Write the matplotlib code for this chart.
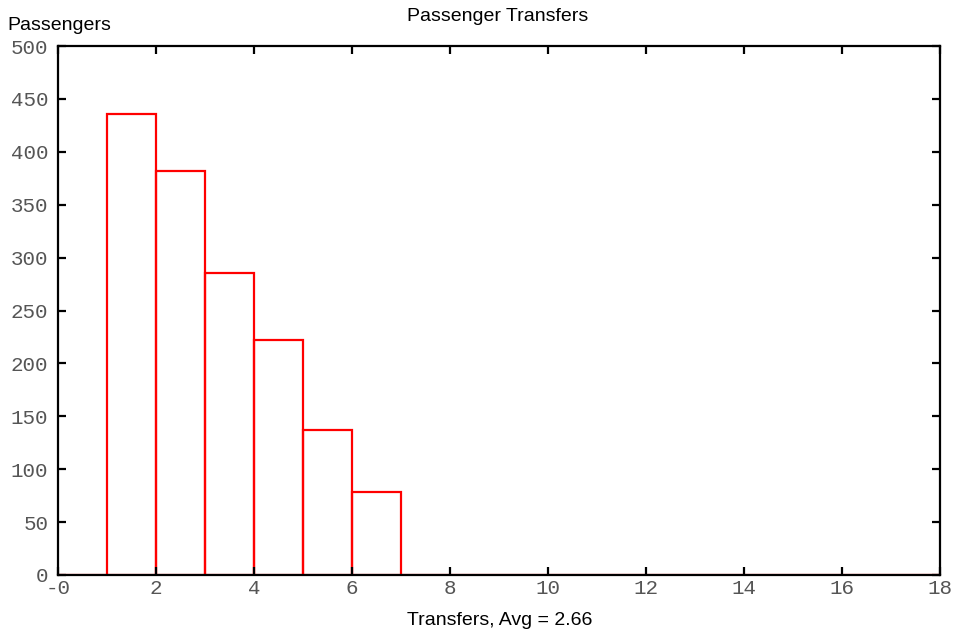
import numpy as np
import matplotlib.pyplot as plt

# histogram of transfers per passenger
bin_edges = list(range(0, 19))
passengers = [0, 436, 382, 285, 222, 137, 78, 0, 0, 0, 0, 0, 0, 0, 0, 0, 0, 0]
avg_transfers = 2.66

x_ticks = list(range(0, 19, 2))
x_ticklabels = ['-0'] + [str(t) for t in x_ticks[1:]]
y_ticks = list(range(0, 501, 50))

fig = plt.figure(figsize=(9.56, 6.34), dpi=100)
ax = fig.add_axes([0.0607, 0.0931, 0.9226, 0.8343])

ax.bar(bin_edges[:-1], passengers, width=1, align='edge', fill=False,
       edgecolor='#ff0000', linewidth=1.6)

ax.set_xlim(0, 18)
ax.set_ylim(0, 500)
ax.set_xticks(x_ticks)
ax.set_xticklabels(x_ticklabels)
ax.set_yticks(y_ticks)

for lab in ax.get_xticklabels() + ax.get_yticklabels():
    lab.set_fontfamily('Liberation Mono')
    lab.set_fontsize(15)
    lab.set_color('#555555')

ax.tick_params(direction='in', length=6, width=1.6, top=True, right=True)
ax.tick_params(axis='y', pad=7)
ax.tick_params(axis='x', pad=3)
for sp in ax.spines.values():
    sp.set_linewidth(1.6)

fig.text(0.521, 0.974, 'Passenger Transfers', ha='center', va='center',
         family='Liberation Sans', fontsize=14)
fig.text(0.008, 0.96, 'Passengers', ha='left', va='center',
         family='Liberation Sans', fontsize=14)
fig.text(0.523, 0.022, f'Transfers, Avg = {avg_transfers:.2f}', ha='center', va='center',
         family='Liberation Sans', fontsize=14)

fig.savefig('out.png', dpi=100)
